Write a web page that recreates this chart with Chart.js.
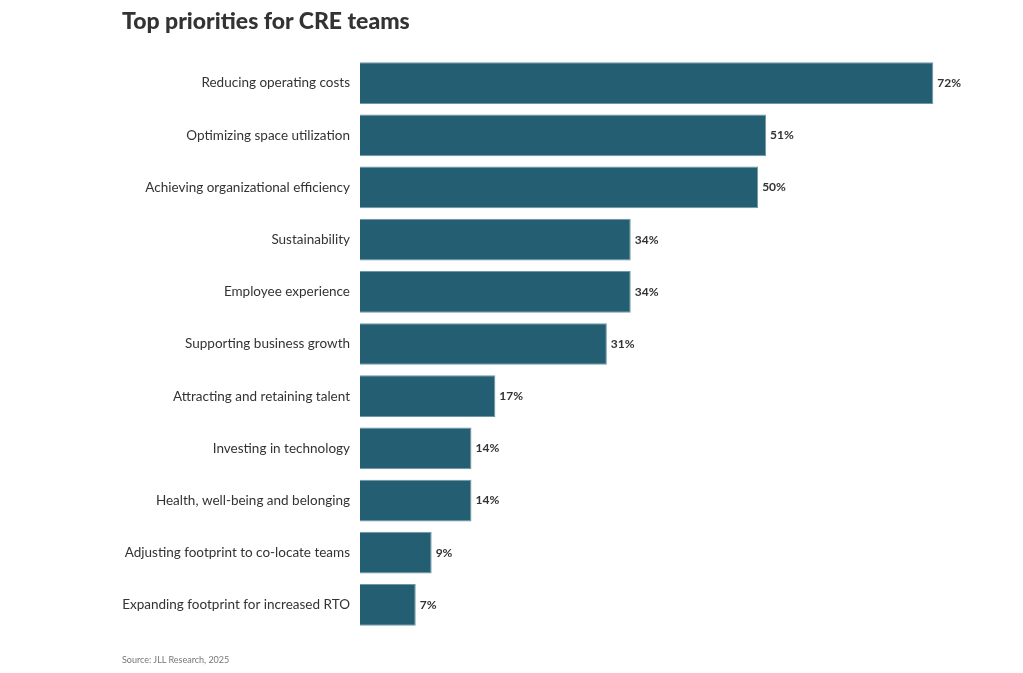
<!DOCTYPE html>
<html lang="en">
<head>
  <meta charset="UTF-8" />
  <title>Top priorities for CRE teams</title>
  <script src="https://cdn.jsdelivr.net/npm/chart.js"></script>
  <style>
    body {
      margin: 0;
      background: #fff;
      font-family: Lato, "Open Sans", sans-serif;
    }
    #wrap {
      position: relative;
      width: 1023px;
      height: 673px;
    }
    #title {
      position: absolute;
      left: 122px;
      top: 6px;
      font-size: 23px;
      font-weight: 900;
      color: #333;
    }
    #source {
      position: absolute;
      left: 122px;
      top: 654px;
      font-size: 9px;
      color: #777;
    }
    canvas {
      position: absolute;
      left: 0;
      top: 0;
    }
  </style>
</head>
<body>
  <div id="wrap">
    <canvas id="chart" width="1023" height="673"></canvas>
    <div id="title">Top priorities for CRE teams</div>
    <div id="source">Source: JLL Research, 2025</div>
  </div>

  <script>
    const categories = [
      "Reducing operating costs",
      "Optimizing space utilization",
      "Achieving organizational efficiency",
      "Sustainability",
      "Employee experience",
      "Supporting business growth",
      "Attracting and retaining talent",
      "Investing in technology",
      "Health, well-being and belonging",
      "Adjusting footprint to co-locate teams",
      "Expanding footprint for increased RTO"
    ];
    const shares = [72, 51, 50, 34, 34, 31, 17, 14, 14, 9, 7];

    // draws the "72%" style labels at the end of each bar
    const valueLabels = {
      id: 'valueLabels',
      afterDatasetsDraw(chart) {
        const ctx = chart.ctx;
        const meta = chart.getDatasetMeta(0);
        ctx.save();
        ctx.font = 'bold 12px Lato, "Open Sans", sans-serif';
        ctx.fillStyle = '#333';
        ctx.textBaseline = 'middle';
        meta.data.forEach((bar, i) => {
          ctx.fillText(shares[i] + '%', bar.x + 4, bar.y);
        });
        ctx.restore();
      }
    };

    const ctx = document.getElementById("chart").getContext("2d");
    new Chart(ctx, {
      type: 'bar',
      data: {
        labels: categories,
        datasets: [{
          data: shares,
          backgroundColor: '#245e72',
          borderColor: '#6f98a6',
          borderWidth: 1,
          categoryPercentage: 1,
          barPercentage: 0.8
        }]
      },
      options: {
        indexAxis: 'y',
        responsive: false,
        animation: false,
        layout: {
          padding: { top: 57, bottom: 42, left: 0, right: 26 }
        },
        plugins: {
          legend: { display: false },
          tooltip: { enabled: false }
        },
        scales: {
          x: {
            min: 0,
            max: 80,
            display: false
          },
          y: {
            grid: { display: false },
            border: { display: false },
            ticks: {
              padding: 2,
              color: '#333',
              font: { family: 'Lato, "Open Sans", sans-serif', size: 13.5 }
            },
            afterFit(scale) {
              scale.width = 360;
            }
          }
        }
      },
      plugins: [valueLabels]
    });
  </script>
</body>
</html>
